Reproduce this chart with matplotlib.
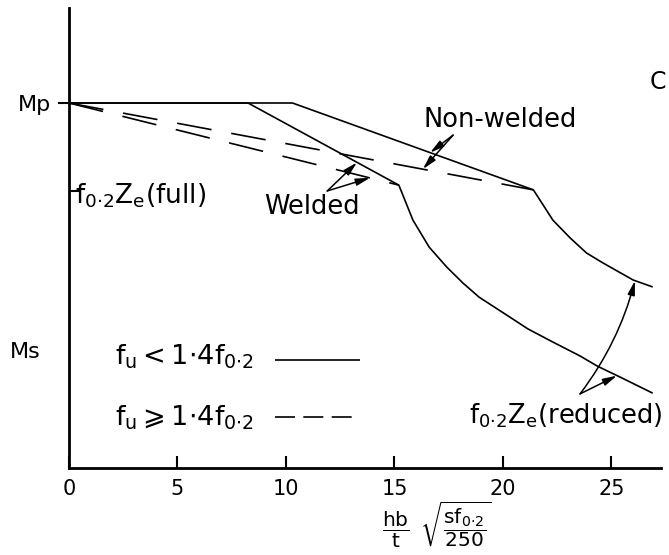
import numpy as np
import matplotlib.pyplot as plt

# Moment capacity against slenderness parameter (Mp = 1)
m_p = 1.0
m_full = 0.759      # f0.2 Ze(full)
m_s = 0.318

# fu < 1.4 f0.2 (solid)
nonwelded_x = [0.0, 10.3, 21.4, 22.3, 23.1, 23.85, 24.6, 26.0, 26.9]
nonwelded_y = [1.0, 1.0, 0.762, 0.679, 0.630, 0.589, 0.562, 0.515, 0.496]

welded_x = [0.0, 8.25, 15.2, 15.85, 16.6, 17.4, 18.15, 18.9, 20.3, 21.15,
            22.3, 23.55, 24.35, 25.4, 26.9]
welded_y = [1.0, 1.0, 0.775, 0.679, 0.605, 0.551, 0.507, 0.468, 0.414, 0.381,
            0.345, 0.307, 0.279, 0.249, 0.205]

# fu >= 1.4 f0.2 (dashed, straight to the knee points)
nonwelded_dash_x = [0.0, 21.4]
nonwelded_dash_y = [1.0, 0.762]
welded_dash_x = [0.0, 15.2]
welded_dash_y = [1.0, 0.775]

x_ticks = [0, 5, 10, 15, 20, 25]

# pointer arrows: (tail, head)
welded_arrows = [((11.9, 0.759), (13.27, 0.837)),
                 ((11.9, 0.759), (13.87, 0.795))]
nonwelded_arrows = [((17.7, 0.912), (16.64, 0.864)),
                    ((17.7, 0.912), (16.31, 0.819))]
reduced_arrows = [((23.55, 0.203), (26.08, 0.513), 0.1),
                  ((23.55, 0.203), (25.25, 0.253), 0.0)]

W, H = 669, 555


def px(x, y):
    """Pixel position (origin top-left) to figure fraction."""
    return x / W, 1 - y / H


plt.rcParams["mathtext.fontset"] = "dejavusans"
plt.rcParams["font.family"] = "DejaVu Sans"

fig = plt.figure(figsize=(W / 100, H / 100), dpi=100)
ax = fig.add_axes([69 / W, 87 / H, 592 / W, 460 / H])
ax.set_xlim(0, 592 / 21.7)
ax.set_ylim(0, 460 / 365)

for side in ("top", "right"):
    ax.spines[side].set_visible(False)
for side in ("left", "bottom"):
    ax.spines[side].set_linewidth(2.0)

ax.set_xticks(x_ticks)
ax.set_xticklabels([str(t) for t in x_ticks])
ax.tick_params(axis="x", direction="in", length=9, width=1.5,
               labelsize=15, pad=8)

ax.set_yticks([m_p])
ax.set_yticklabels(["Mp"])
ax.tick_params(axis="y", direction="out", length=8, width=1.5,
               labelsize=16, pad=5)
ax.set_yticks([m_full], minor=True)
ax.tick_params(axis="y", which="minor", direction="in", length=8, width=1.5)

line_kw = dict(color="black", lw=1.2, solid_capstyle="butt")
ax.plot(nonwelded_x, nonwelded_y, **line_kw)
ax.plot(welded_x, welded_y, **line_kw)
ax.plot(nonwelded_dash_x, nonwelded_dash_y, ls=(0, (21, 12)), **line_kw)
ax.plot(welded_dash_x, welded_dash_y, ls=(0, (21, 12)), **line_kw)

arrow_kw = dict(arrowstyle="-|>,head_length=0.7,head_width=0.18",
                color="black", lw=1.1, mutation_scale=12,
                shrinkA=0, shrinkB=0)
for tail, head in welded_arrows + nonwelded_arrows:
    ax.annotate("", xy=head, xytext=tail, arrowprops=arrow_kw)
for tail, head, rad in reduced_arrows:
    ax.annotate("", xy=head, xytext=tail,
                arrowprops=dict(arrow_kw, connectionstyle=f"arc3,rad={rad}"))

# left-hand labels
fig.text(*px(10, 352), "Ms", fontsize=16, ha="left", va="center")
fig.text(*px(75, 196), r"$\mathrm{f_{0{\cdot}2}Z_e(full)}$",
         fontsize=19, ha="left", va="center")

# curve labels
fig.text(*px(312, 207), "Welded", fontsize=18.5, ha="center", va="center")
fig.text(*px(500, 120), "Non-welded", fontsize=18.5, ha="center", va="center")
fig.text(*px(566, 416), r"$\mathrm{f_{0{\cdot}2}Z_e(reduced)}$",
         fontsize=18.5, ha="center", va="center")
fig.text(*px(650, 82), "C", fontsize=17, ha="left", va="center")

# key
fig.text(*px(115, 357), r"$\mathrm{f_u<1{\cdot}4f_{0{\cdot}2}}$",
         fontsize=19.5, ha="left", va="center")
fig.text(*px(115, 418), r"$\mathrm{f_u\geqslant 1{\cdot}4f_{0{\cdot}2}}$",
         fontsize=19.5, ha="left", va="center")
key_x = [(275 - 69) / 21.7, (360 - 69) / 21.7]
ax.plot(key_x, [(468 - 360) / 365] * 2, **line_kw)
ax.plot(key_x, [(468 - 417) / 365] * 2, ls=(0, (12, 5)), **line_kw)

# x-axis quantity
fig.text(*px(437, 500),
         r"$\dfrac{\mathrm{hb}}{\mathrm{t}}\;\;\sqrt{\dfrac{\mathrm{sf_{0{\cdot}2}}}{250}}$",
         fontsize=14.5, ha="center", va="top")

fig.savefig("out.png", dpi=100)
